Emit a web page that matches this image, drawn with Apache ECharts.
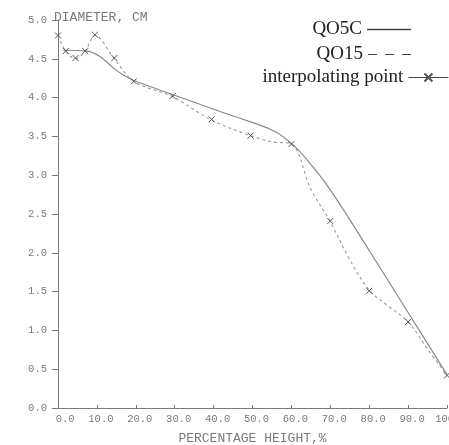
<!DOCTYPE html>
<html>
<head>
<meta charset="utf-8">
<script src="https://cdn.jsdelivr.net/npm/echarts@6/dist/echarts.min.js"></script>
<style>html,body{margin:0;padding:0;background:#fff}#c{width:449px;height:445px}</style>
</head>
<body>
<div id="c"></div>
<script>
// QO5C (solid)
const qo5cX = [1.4, 7.5, 10.8, 14.3, 16.8, 19.5, 30, 40, 47, 55.5, 60, 64, 70, 80, 90, 100];
const qo5cY = [4.61, 4.60, 4.53, 4.38, 4.29, 4.22, 4.03, 3.85, 3.73, 3.57, 3.41, 3.20, 2.81, 2.03, 1.23, 0.43];
// QO15 (dashed)
const qo15X = [0, 2, 4.5, 7, 9.5, 14.5, 19.5, 29.5, 39.5, 49.5, 55, 60, 65, 70, 75, 80, 85, 90, 95, 100];
const qo15Y = [4.80, 4.60, 4.50, 4.60, 4.80, 4.50, 4.21, 4.01, 3.71, 3.51, 3.43, 3.40, 2.82, 2.40, 1.91, 1.52, 1.31, 1.11, 0.76, 0.42];
// interpolating points
const ipX = [0, 2, 4.5, 7, 9.5, 14.5, 19.5, 29.5, 39.5, 49.5, 60, 70, 80, 90, 100];
const ipY = [4.80, 4.60, 4.51, 4.60, 4.81, 4.51, 4.21, 4.02, 3.72, 3.51, 3.40, 2.41, 1.51, 1.11, 0.42];
// axis ticks
const xTicks = {min: 0, max: 100, interval: 10};
const yTicks = {min: 0, max: 5, interval: 0.5};

const zip = (a, b) => a.map((v, i) => [v, b[i]]);
const mono = 'Liberation Mono';
const serif = 'Liberation Serif';
const gray = '#7a7a7a';
const crossPath = 'path://M0,0L10,10M0,10L10,0';
const dashIcon = 'path://M0,0h9v1h-9zM17,0h9v1h-9zM34,0h9v1h-9z';
const legendText = {fontFamily: serif, fontSize: 19, color: '#222'};

const chart = echarts.init(document.getElementById('c'), null, {renderer: 'canvas'});
chart.setOption({
  animation: false,
  backgroundColor: '#fff',
  grid: {left: 58, right: 2, top: 20, bottom: 37, containLabel: false, outerBoundsMode: 'none'},
  legend: [
    {data: [{name: 'QO5C', icon: 'rect', itemStyle: {color: '#444'}}],
     orient: 'horizontal', align: 'right', right: 38, top: 20, padding: 0, itemWidth: 44, itemHeight: 1.3,
     itemStyle: {color: '#444'}, textStyle: legendText},
    {data: [{name: 'QO15', icon: dashIcon, itemStyle: {color: '#444'}}],
     orient: 'horizontal', align: 'right', right: 38, top: 45, padding: 0, itemWidth: 43, itemHeight: 1.3,
     itemStyle: {color: '#444'}, textStyle: legendText},
    {data: [{name: 'interpolating point', lineStyle: {type: 'solid', width: 1.2, color: '#444', opacity: 1}}],
     orient: 'horizontal', align: 'right', right: 0, top: 68, padding: 0, itemWidth: 40, itemHeight: 10,
     textStyle: legendText}
  ],
  xAxis: {
    type: 'value', min: xTicks.min, max: xTicks.max, interval: xTicks.interval,
    name: 'PERCENTAGE HEIGHT,%', nameLocation: 'middle', nameGap: 24,
    nameTextStyle: {fontFamily: mono, fontSize: 13, color: gray},
    axisLine: {show: true, lineStyle: {color: gray, width: 1}},
    axisTick: {show: true, inside: true, length: 3, lineStyle: {color: gray}},
    axisLabel: {fontFamily: mono, fontSize: 10.5, color: gray, margin: 6,
      formatter: v => v.toFixed(1).padStart(4, ' '), padding: [0, 0, 0, 8]},
    splitLine: {show: false}
  },
  yAxis: {
    type: 'value', min: yTicks.min, max: yTicks.max, interval: yTicks.interval,
    name: 'DIAMETER, CM', nameLocation: 'end', nameGap: 0,
    nameTextStyle: {fontFamily: mono, fontSize: 13, color: gray, align: 'left', verticalAlign: 'bottom', padding: [0, 0, -4, -4]},
    axisLine: {show: true, lineStyle: {color: gray, width: 1}},
    axisTick: {show: true, length: 6, lineStyle: {color: gray}},
    axisLabel: {fontFamily: mono, fontSize: 10.5, color: gray, margin: 11,
      formatter: v => v.toFixed(1)},
    splitLine: {show: false}
  },
  series: [
    {name: 'QO5C', type: 'line', data: zip(qo5cX, qo5cY), smooth: 0.35, showSymbol: false, symbol: 'none',
     lineStyle: {color: '#8a8a8a', width: 1.2, type: 'solid'}, itemStyle: {color: '#444'}},
    {name: 'QO15', type: 'line', data: zip(qo15X, qo15Y), smooth: 0.35, showSymbol: false, symbol: 'none',
     lineStyle: {color: '#9a9a9a', width: 1.1, type: [3, 3]}, itemStyle: {color: '#444'}},
    {name: 'interpolating point', type: 'line', data: zip(ipX, ipY), symbol: crossPath, symbolSize: 6,
     lineStyle: {opacity: 0, width: 0}, itemStyle: {color: '#555', borderColor: '#555', borderWidth: 1}}
  ]
});
</script>
</body>
</html>
